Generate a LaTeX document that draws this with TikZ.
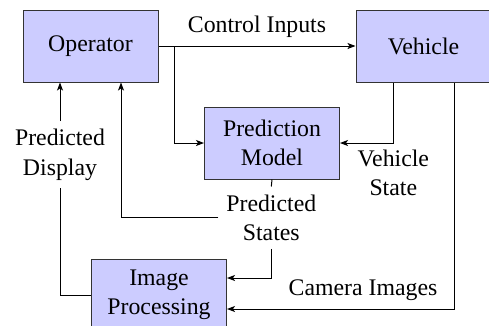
\documentclass[tikz,border=0pt]{standalone}
\usepackage{fontspec}
\setmainfont{LiberationSerif-Regular.ttf}
\usetikzlibrary{arrows.meta}
\tikzset{
  x=1pt, y=-1pt,
  txt/.style={font=\fontsize{23.8}{29.5}\selectfont, align=center, inner sep=7.9pt},
  blk/.style={txt, draw=black!80, line width=1pt, fill=blue!20, minimum width=135pt, minimum height=72pt},
  lbl/.style={txt},
  arr/.style={-{Stealth[length=8pt,width=6pt,inset=2pt]}, line width=1pt},
  ln/.style={line width=1pt}
}
\begin{document}
\begin{tikzpicture}
\useasboundingbox (0,0) rectangle (489,325);
\node[blk] (op) at (90.5,46) {Operator};
\node[blk] (veh) at (423.5,46) {Vehicle};
\node[blk] (pm) at (272,143) {Prediction\\Model};
\node[blk] (ip) at (159,295) {Image\\Processing};

\node[lbl] (pd) at (60,154.8) {Predicted\\Display};
\node[lbl] (vs) at (393.3,172.9) {Vehicle\\State};
\node[lbl] (ps) at (271.3,217.7) {Predicted\\States};
\node[lbl] (cam) at (363,289.7) {Camera Images};

\draw[arr] (op.east) -- (veh.west) node[lbl, midway, above] (ci) {Control Inputs};
\coordinate (br) at ([xshift=16pt]op.east);
\draw[arr] (br) |- (pm.west);

\coordinate (vs1) at ([xshift=-30.5pt]veh.south);
\coordinate (vs2) at ([xshift=30.5pt]veh.south);
\draw[arr] (vs1) |- (pm.east);
\draw[arr] (vs2) |- ([yshift=-14pt]ip.east);

\draw[ln] (pm.south) -- (ps.north);
\draw[arr] (ps.south) |- ([yshift=17pt]ip.east);
\coordinate (op2) at ([xshift=30.5pt]op.south);
\draw[arr] (ps.west) -| (op2);

\draw[ln] (ip.west) -| (pd.south);
\coordinate (op1) at (op.south -| pd.north);
\draw[arr] (pd.north) -- (op1);
\end{tikzpicture}
\end{document}
